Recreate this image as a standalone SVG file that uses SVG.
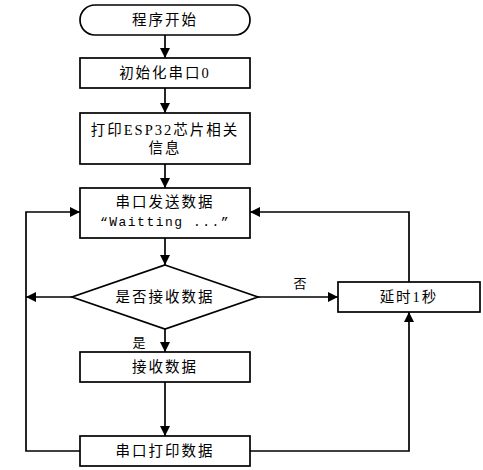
<svg xmlns="http://www.w3.org/2000/svg" width="483" height="470" viewBox="0 0 483 470">
<defs>
<marker id="arr" viewBox="0 0 10 10" refX="10" refY="5" markerWidth="10" markerHeight="10" markerUnits="userSpaceOnUse" orient="auto">
<path d="M0,0 L10,5 L0,10 Z" fill="#000"/>
</marker>
</defs>
<style>
.shape{fill:#fff;stroke:#000;stroke-width:1.7}
.t{font-family:"Liberation Serif","Noto Sans CJK SC",serif;font-size:14.5px;letter-spacing:2px;text-anchor:middle;dominant-baseline:central;fill:#000}
.m{font-family:"Liberation Mono","Noto Sans CJK SC",monospace;font-size:13px;letter-spacing:1.5px;text-anchor:middle;dominant-baseline:central;fill:#000}
.lbl{font-family:"Liberation Serif","Noto Sans CJK SC",serif;font-size:13px;text-anchor:middle;dominant-baseline:central;fill:#000}
.c{fill:none;stroke:#000;stroke-width:1.7;marker-end:url(#arr)}
</style>
<rect width="483" height="470" fill="#fff"/>
<g id="connectors">
<path class="c" d="M165,35 V58"/>
<path class="c" d="M165,88 V113"/>
<path class="c" d="M165,164 V188"/>
<path class="c" d="M165,238 V265"/>
<path class="c" d="M165,329 V352"/>
<path class="c" d="M165,382 V436"/>
<path class="c" d="M258,297 H338"/>
<path class="c" d="M72,297 H26"/>
<path class="c" d="M80,451 H26 V212 H80"/>
<path class="c" d="M409,282 V212 H250"/>
<path class="c" d="M250,451 H409 V312"/>
<text class="lbl" x="300" y="283">否</text>
<text class="lbl" x="139" y="342">是</text>
</g>
<g id="start">
<rect class="shape" x="80" y="5" width="170" height="30" rx="15" ry="15"/>
<text class="t" x="165" y="20">程序开始</text>
</g>
<g id="init">
<rect class="shape" x="80" y="58" width="170" height="30"/>
<text class="t" x="165" y="73">初始化串口0</text>
</g>
<g id="print-info">
<rect class="shape" x="80" y="113" width="170" height="51"/>
<text class="t" x="165" y="130">打印ESP32芯片相关</text>
<text class="t" x="165" y="148">信息</text>
</g>
<g id="send">
<rect class="shape" x="80" y="188" width="170" height="50"/>
<text class="t" x="165" y="202">串口发送数据</text>
<text class="m" x="165" y="222">“Waitting ...”</text>
</g>
<g id="decision">
<polygon class="shape" points="165,265 258,297 165,329 72,297"/>
<text class="t" x="165" y="297">是否接收数据</text>
</g>
<g id="receive">
<rect class="shape" x="80" y="352" width="170" height="30"/>
<text class="t" x="165" y="367">接收数据</text>
</g>
<g id="serial-print">
<rect class="shape" x="80" y="436" width="170" height="30"/>
<text class="t" x="165" y="451">串口打印数据</text>
</g>
<g id="delay">
<rect class="shape" x="338" y="282" width="142" height="30"/>
<text class="t" x="409" y="297">延时1秒</text>
</g>
</svg>
